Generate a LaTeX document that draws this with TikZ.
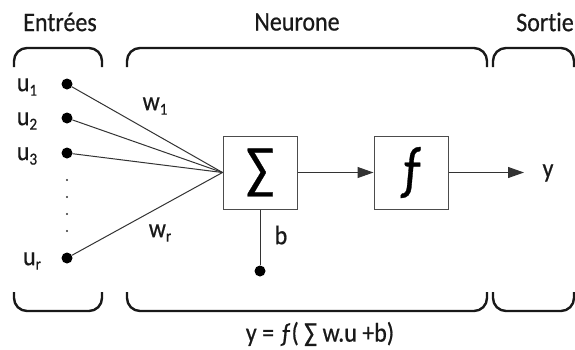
\documentclass[tikz,border=0pt]{standalone}
\usepackage{fontspec}
\setmainfont{Carlito}[Ligatures=NoCommon,FakeBold=0.6]
\usetikzlibrary{arrows.meta}
\newcommand\mysub[1]{\raisebox{-4pt}{\fontsize{15}{15}\selectfont #1}}
\newcommand\tallt[1]{\scalebox{1}[1.12]{#1}}
\begin{document}
\begin{tikzpicture}[x=1pt,y=-1pt,
  brace/.style={line width=2.4pt, rounded corners=13pt, draw=black!90},
  dot/.style={circle, fill=black, inner sep=0pt, minimum size=11pt},
  smalldot/.style={circle, fill=black!80, inner sep=0pt, minimum size=2.2pt},
  wire/.style={draw=black!80, line width=1pt},
  box/.style={draw=black!70, line width=1pt, minimum width=74pt, minimum height=73pt, inner sep=0pt},
  lbl/.style={font=\fontsize{24}{24}\selectfont, inner sep=0pt, text=black!90},
  arr/.style={wire, -{Triangle[length=16pt,width=11pt]}}
]
\useasboundingbox (0,0) rectangle (575,349);
% brackets
\draw[brace] (14,67) -- (14,48) -- (102,48) -- (102,67);
\draw[brace] (127,67) -- (127,48) -- (487,48) -- (487,67);
\draw[brace] (493,67) -- (493,48) -- (574,48) -- (574,67);
\draw[brace] (14,292) -- (14,311) -- (102,311) -- (102,292);
\draw[brace] (127,292) -- (127,311) -- (487,311) -- (487,292);
\draw[brace] (493,292) -- (493,311) -- (574,311) -- (574,292);
% titles
\node[lbl] (tE) at (60,22) {\tallt{Entrées}};
\node[lbl] (tN) at (297,22) {\tallt{Neurone}};
\node[lbl] (tS) at (545,22) {\tallt{Sortie}};
% inputs
\node[dot] (u1) at (67,84) {};
\node[dot] (u2) at (67,118) {};
\node[dot] (u3) at (67,153) {};
\node[dot] (ur) at (67,258) {};
\node[smalldot] (d1) at (67,180) {};
\node[smalldot] (d2) at (67,197) {};
\node[smalldot] (d3) at (67,214) {};
\node[smalldot] (d4) at (67,231) {};
\node[lbl] (lu1) at (27,87) {\tallt{u\mysub{1}}};
\node[lbl] (lu2) at (27,121) {\tallt{u\mysub{2}}};
\node[lbl] (lu3) at (27,156) {\tallt{u\mysub{3}}};
\node[lbl] (lur) at (32,261) {\tallt{u\mysub{r}}};
% boxes
\node[box] (S) at (260,172.5) {\scalebox{1}[1.1]{\fontsize{52}{52}\selectfont ∑}};
\node[box] (F) at (411,172.5) {\scalebox{1}[1.2]{\fontsize{50}{50}\selectfont ƒ}};
\draw[wire] (u1) -- (S.west);
\draw[wire] (u2) -- (S.west);
\draw[wire] (u3) -- (S.west);
\draw[wire] (ur) -- (S.west);
\node[lbl] (w1) at (155,106) {\tallt{w\mysub{1}}};
\node[lbl] (wr) at (160,233) {\tallt{w\mysub{r}}};
\node[dot] (b) at (260,271) {};
\draw[wire] (S.south) -- (b);
\node[lbl] (lb) at (281,235) {\tallt{b}};
\draw[arr] (S.east) -- (F.west);
\coordinate (yend) at (524,172.5);
\draw[arr] (F.east) -- (yend);
\node[lbl] (ly) at (548,173) {\tallt{y}};
\node[lbl] (form) at (320,334) {\tallt{y = ƒ( ∑ w.u +b)}};
\end{tikzpicture}
\end{document}
